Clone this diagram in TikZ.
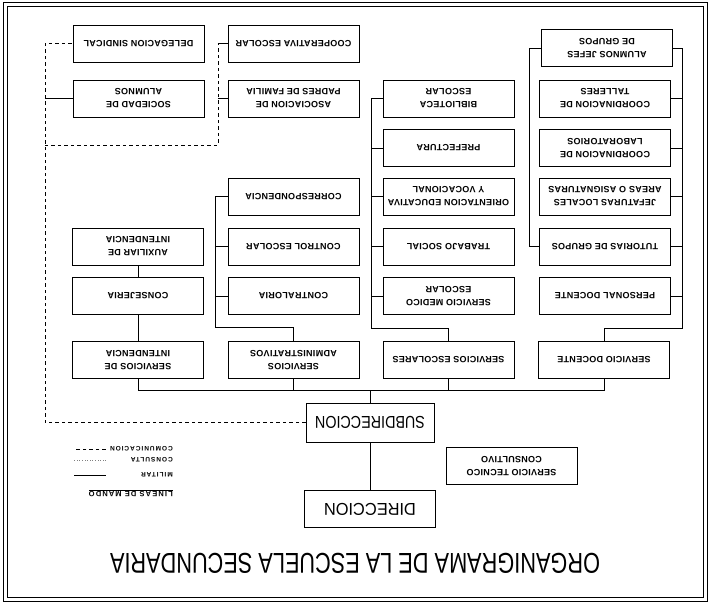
\documentclass[tikz,border=0pt]{standalone}
\usepackage{fontspec}
\usepackage{graphicx}
\setmainfont{Liberation Sans}
\newfontfamily\boxfont[LetterSpace=3]{Liberation Sans}
\newfontfamily\keyfont[LetterSpace=15]{Liberation Sans}

\begin{document}
\begin{tikzpicture}[x=1pt,y=1pt,
  unit/.style={draw, line width=0.8pt, minimum width=131pt, minimum height=37pt,
    inner sep=1pt, align=center, font=\boxfont\bfseries\fontsize{9}{13}\selectfont},
  chief/.style={unit, font=\normalfont},
  link/.style={line width=0.7pt},
  comline/.style={line width=0.8pt, dash pattern=on 3.5pt off 3pt},
  keytext/.style={anchor=west, inner sep=0pt, font=\keyfont\bfseries\fontsize{6.5}{7}\selectfont},
]
\begin{scope}[rotate=180, transform shape] % the sheet is printed upside down
  \useasboundingbox (0,0) rectangle (710,603);
  \draw[line width=0.8pt] (3,2) rectangle (707,601);
  \draw[line width=0.5pt] (7,6) rectangle (703,597);

  % title and head offices
  \node (title) at (355,563) {\resizebox{490pt}{20pt}{ORGANIGRAMA DE LA ESCUELA SECUNDARIA}};
  \node[chief] (dir) at (340,509) {\resizebox{92pt}{12pt}{DIRECCION}};
  \node[chief, minimum width=128pt, minimum height=39pt] (subdir) at (340,422.5) {\resizebox{110pt}{12pt}{SUBDIRECCION}};
  \node[unit] (tecnico) at (198.5,466) {SERVICIO TECNICO\\CONSULTIVO};

  % intendencia column
  \node[unit] (deleg) at (571.5,43.5) {DELEGACION SINDICAL};
  \node[unit] (sociedad) at (571.5,98.5) {SOCIEDAD DE\\ALUMNOS};
  \node[unit] (auxiliar) at (572,246.5) {AUXILIAR DE\\INTENDENCIA};
  \node[unit] (consej) at (572,296) {CONSEJERIA};
  \node[unit] (intend) at (572,360) {SERVICIOS DE\\INTENDENCIA};

  % administrative column
  \node[unit] (coop) at (416.5,43.5) {COOPERATIVA ESCOLAR};
  \node[unit] (asoc) at (416.5,98.5) {ASOCIACION DE\\PADRES DE FAMILIA};
  \node[unit] (corresp) at (416.5,196.5) {CORRESPONDENCIA};
  \node[unit] (control) at (416.5,246.5) {CONTROL ESCOLAR};
  \node[unit] (contral) at (416.5,296) {CONTRALORIA};
  \node[unit] (admin) at (416.5,360) {SERVICIOS\\ADMINISTRATIVOS};

  % school services column
  \node[unit] (bibl) at (261.5,98.5) {BIBLIOTECA\\ESCOLAR};
  \node[unit] (prefect) at (261.5,148) {PREFECTURA};
  \node[unit] (orient) at (261.5,196.5) {ORIENTACION EDUCATIVA\\Y VOCACIONAL};
  \node[unit] (trabajo) at (261.5,246.5) {TRABAJO SOCIAL};
  \node[unit] (medico) at (261.5,296) {SERVICIO MEDICO\\ESCOLAR};
  \node[unit] (escolares) at (261.5,360) {SERVICIOS ESCOLARES};

  % teaching column
  \node[unit] (jefes) at (103,48) {ALUMNOS JEFES\\DE GRUPOS};
  \node[unit] (talleres) at (105,98.5) {COORDINACION DE\\TALLERES};
  \node[unit] (labs) at (105,148) {COORDINACION DE\\LABORATORIOS};
  \node[unit] (jefaturas) at (105,196.5) {JEFATURAS LOCALES\\AREAS O ASIGNATURAS};
  \node[unit] (tutorias) at (105,246.5) {TUTORIAS DE GRUPOS};
  \node[unit] (personal) at (105,296) {PERSONAL DOCENTE};
  \node[unit] (docente) at (106,360) {SERVICIO DOCENTE};

  % line of command
  \coordinate (bus) at (0,390);
  \draw[link] (dir.south) -- (subdir.north);
  \draw[link] (subdir.south) -- (subdir.south |- bus);
  \draw[link] (intend.north) |- (docente.north |- bus) -- (docente.north);
  \draw[link] (admin.north) -- (admin.north |- bus);
  \draw[link] (escolares.north) -- (escolares.north |- bus);
  \draw[link] (intend.south) -- (consej.north);
  \draw[link] (consej.south) -- (auxiliar.north);

  \coordinate (adminrail) at (495,327);
  \draw[link] (admin.south) |- (adminrail) |- (corresp.east);
  \foreach \n in {control,contral}
    \draw[link] (adminrail |- \n.east) -- (\n.east);

  \coordinate (escrail) at (338.5,328);
  \draw[link] (escolares.south) |- (escrail) |- (bibl.east);
  \foreach \n in {prefect,orient,trabajo,medico}
    \draw[link] (escrail |- \n.east) -- (\n.east);

  \coordinate (docrail) at (28,328);
  \draw[link] (docente.south) |- (docrail) |- (jefes.west);
  \foreach \n in {talleres,labs,jefaturas,tutorias,personal}
    \draw[link] (docrail |- \n.west) -- (\n.west);
  \draw[link] (jefes.east) -- ++(12,0) |- (tutorias.east);

  % line of communication
  \coordinate (comrail) at (665,145);
  \coordinate (loop) at (492,145);
  \draw[comline] (subdir.east) -| (comrail |- deleg.east) -- (deleg.east);
  \draw[link] (comrail |- sociedad.east) -- (sociedad.east);
  \draw[comline] (comrail) -- (loop) -- (loop |- coop.east);
  \draw[link] (loop |- coop.east) -- (coop.east);
  \draw[link] (loop |- asoc.east) -- (asoc.east);

  % key
  \node[keytext, font=\keyfont\bfseries\fontsize{7.5}{9}\selectfont] (keyhead) at (537,493) {\underline{LINEAS DE MANDO}};
  \node[keytext] (keymil) at (537,475) {MILITAR};
  \node[keytext] (keycons) at (537,460) {CONSULTA};
  \node[keytext] (keycom) at (537,449) {COMUNICACION};
  \coordinate (keyA) at (604,0);
  \coordinate (keyB) at (636,0);
  \draw[link] (keyA |- keymil) -- (keyB |- keymil);
  \draw[line width=0.6pt, dotted, gray] (keyA |- keycons) -- (keyB |- keycons);
  \draw[comline] (keyA |- keycom) -- (keyB |- keycom);
\end{scope}
\end{tikzpicture}
\end{document}
